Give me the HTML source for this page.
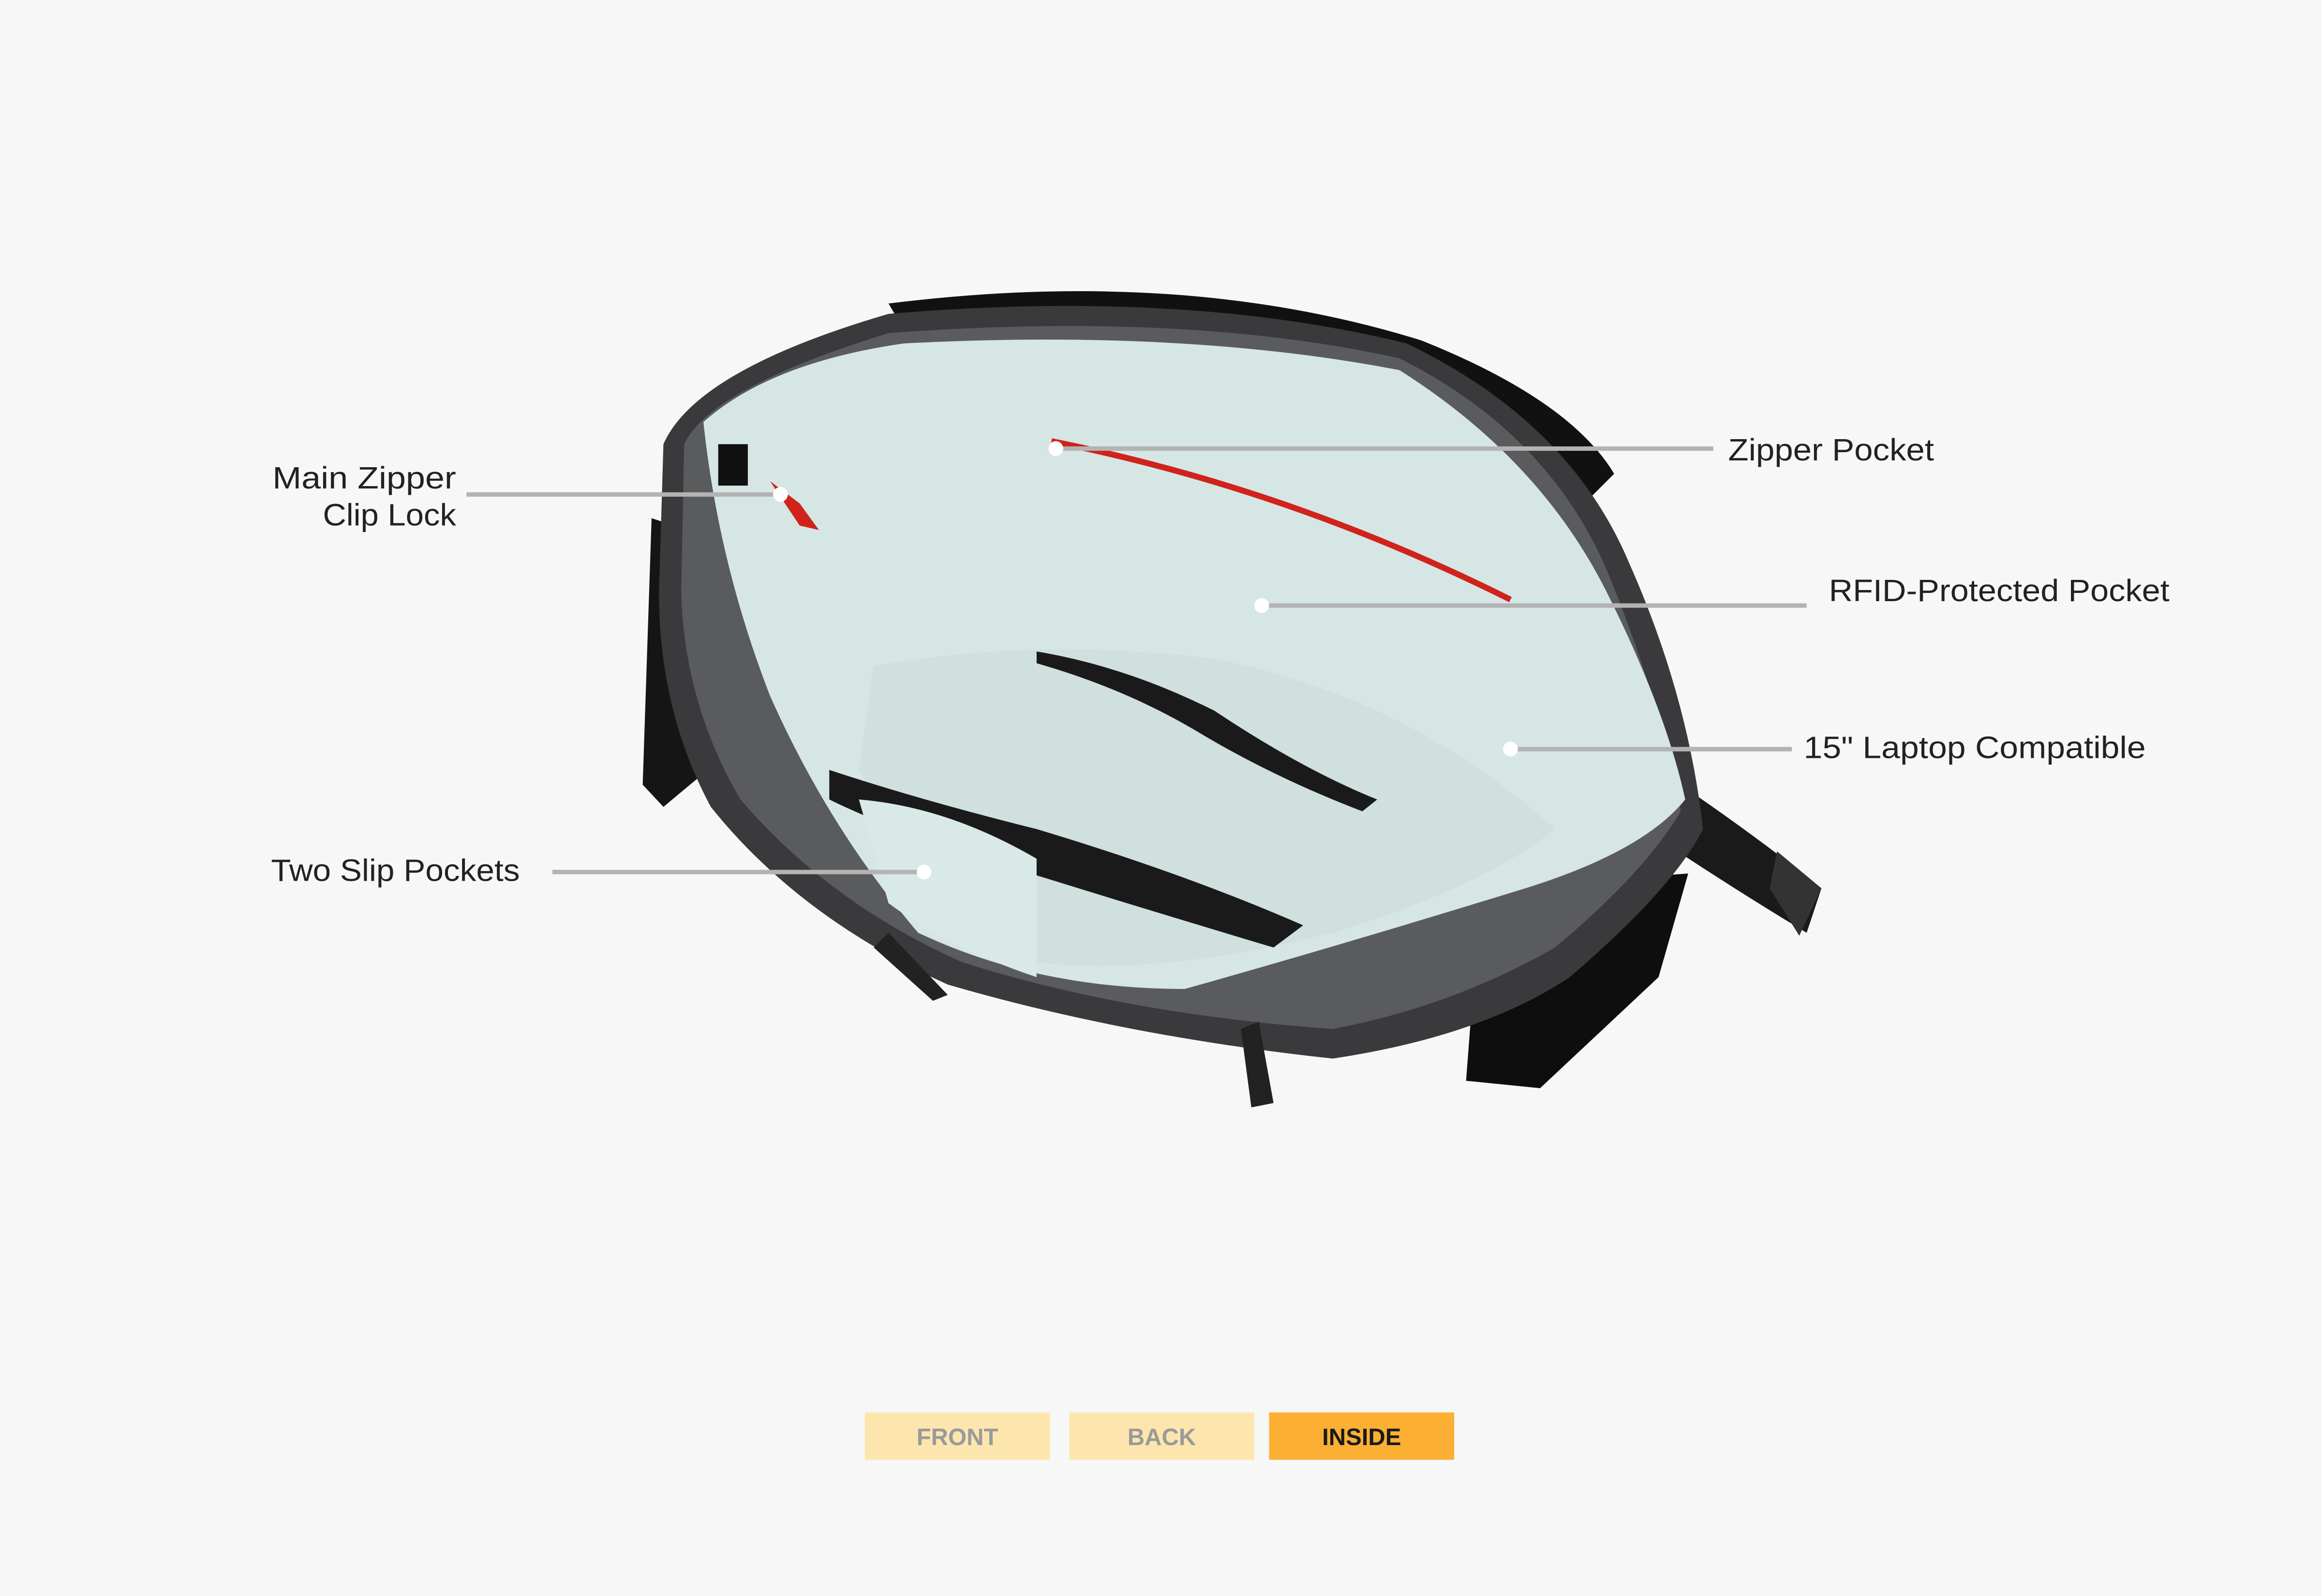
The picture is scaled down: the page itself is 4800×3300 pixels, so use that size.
<!DOCTYPE html>
<html><head><meta charset="utf-8"><style>
html,body{margin:0;padding:0;background:#f7f7f7;}
svg{display:block;}
</style></head><body>
<svg width="4800" height="3300" viewBox="0 0 1568 1078" xmlns="http://www.w3.org/2000/svg">
<rect width="1568" height="1078" fill="#f7f7f7"/>
<path d="M600,205 Q800,180 960,230 Q1060,270 1090,320 L1075,335 Q1040,290 950,250 Q800,205 610,222 Z" fill="#111"/>
<path d="M1120,520 Q1180,560 1230,600 L1220,630 Q1170,600 1110,560 Z" fill="#1a1a1a"/>
<path d="M440,350 L470,360 L478,520 L448,545 L434,530 Z" fill="#151515"/>
<path d="M1000,600 L1140,590 L1120,660 L1040,735 L990,730 Z" fill="#0e0e0e"/>
<path d="M448,300 Q470,250 600,212 Q800,195 950,232 Q1060,285 1100,380 Q1140,470 1150,560 Q1130,600 1060,660 Q1000,700 900,715 Q760,700 640,665 Q540,620 480,545 Q445,480 445,400 Z" fill="#3a3a3c"/>
<path d="M462,300 Q480,262 600,225 Q800,210 945,242 Q1045,292 1085,385 Q1120,470 1135,548 Q1110,590 1050,640 Q980,680 900,695 Q760,685 650,650 Q560,610 500,540 Q462,475 460,400 Z" fill="#5a5b5d"/>
<path d="M475,285 Q520,245 610,232 Q800,222 945,250 Q1040,310 1085,400 Q1125,480 1138,540 Q1110,575 1030,600 Q900,640 800,668 Q700,668 620,630 Q560,560 520,470 Q485,380 475,285 Z" fill="#d6e6e4"/>
<path d="M590,450 Q700,430 820,445 Q950,470 1050,560 Q1000,600 900,630 Q780,660 700,650 Q620,600 580,520 Z" fill="#cfe0de"/>
<path d="M560,520 Q620,540 700,560 Q800,590 880,625 L860,640 Q760,610 680,585 Q600,560 560,540 Z" fill="#1a1a1a"/>
<path d="M700,440 Q760,450 820,480 Q880,520 930,540 L920,548 Q860,525 810,495 Q760,465 700,448 Z" fill="#1a1a1a"/>
<path d="M580,540 Q640,545 700,580 L700,660 Q640,640 600,610 Z" fill="#d9e9e7"/>
<path d="M710,298 Q870,330 1020,405" stroke="#d0231c" stroke-width="4" fill="none"/>
<rect x="485" y="300" width="20" height="28" fill="#111"/>
<path d="M520,325 L540,340 L553,358 L540,355 Z" fill="#d0231c"/>
<path d="M600,630 L640,672 L630,676 L590,640 Z" fill="#222"/>
<path d="M850,690 L860,745 L845,748 L838,695 Z" fill="#222"/>
<path d="M1200,575 L1230,600 L1215,632 L1195,600 Z" fill="#333"/>
<g stroke="#b3b3b3" stroke-width="3" fill="none">
<line x1="315" y1="334" x2="527" y2="334"/>
<line x1="713" y1="303" x2="1157" y2="303"/>
<line x1="852" y1="409" x2="1220" y2="409"/>
<line x1="1020" y1="506" x2="1210" y2="506"/>
<line x1="373" y1="589" x2="624" y2="589"/>
</g>
<g fill="#fff">
<circle cx="527" cy="334" r="5"/><circle cx="713" cy="303" r="5"/><circle cx="852" cy="409" r="5"/><circle cx="1020" cy="506" r="5"/><circle cx="624" cy="589" r="5"/>
</g>
<g font-family="Liberation Sans, sans-serif" font-size="21" fill="#222">
<text x="184" y="330" textLength="124" lengthAdjust="spacingAndGlyphs">Main Zipper</text>
<text x="218" y="355" textLength="90" lengthAdjust="spacingAndGlyphs">Clip Lock</text>
<text x="1167" y="311" textLength="139" lengthAdjust="spacingAndGlyphs">Zipper Pocket</text>
<text x="1235" y="406" textLength="230" lengthAdjust="spacingAndGlyphs">RFID-Protected Pocket</text>
<text x="1218" y="512" textLength="231" lengthAdjust="spacingAndGlyphs">15" Laptop Compatible</text>
<text x="183" y="595" textLength="168" lengthAdjust="spacingAndGlyphs">Two Slip Pockets</text>
</g>
<rect x="584" y="954" width="125" height="32" fill="#fde6ae"/>
<rect x="722" y="954" width="125" height="32" fill="#fde6ae"/>
<rect x="857" y="954" width="125" height="32" fill="#fbb034"/>
<g font-family="Liberation Sans, sans-serif" font-size="16" font-weight="bold" text-anchor="middle">
<text x="646.5" y="976" fill="#9a9a9a">FRONT</text>
<text x="784.5" y="976" fill="#9a9a9a">BACK</text>
<text x="919.5" y="976" fill="#1a1a1a">INSIDE</text>
</g>
</svg>
</body></html>
